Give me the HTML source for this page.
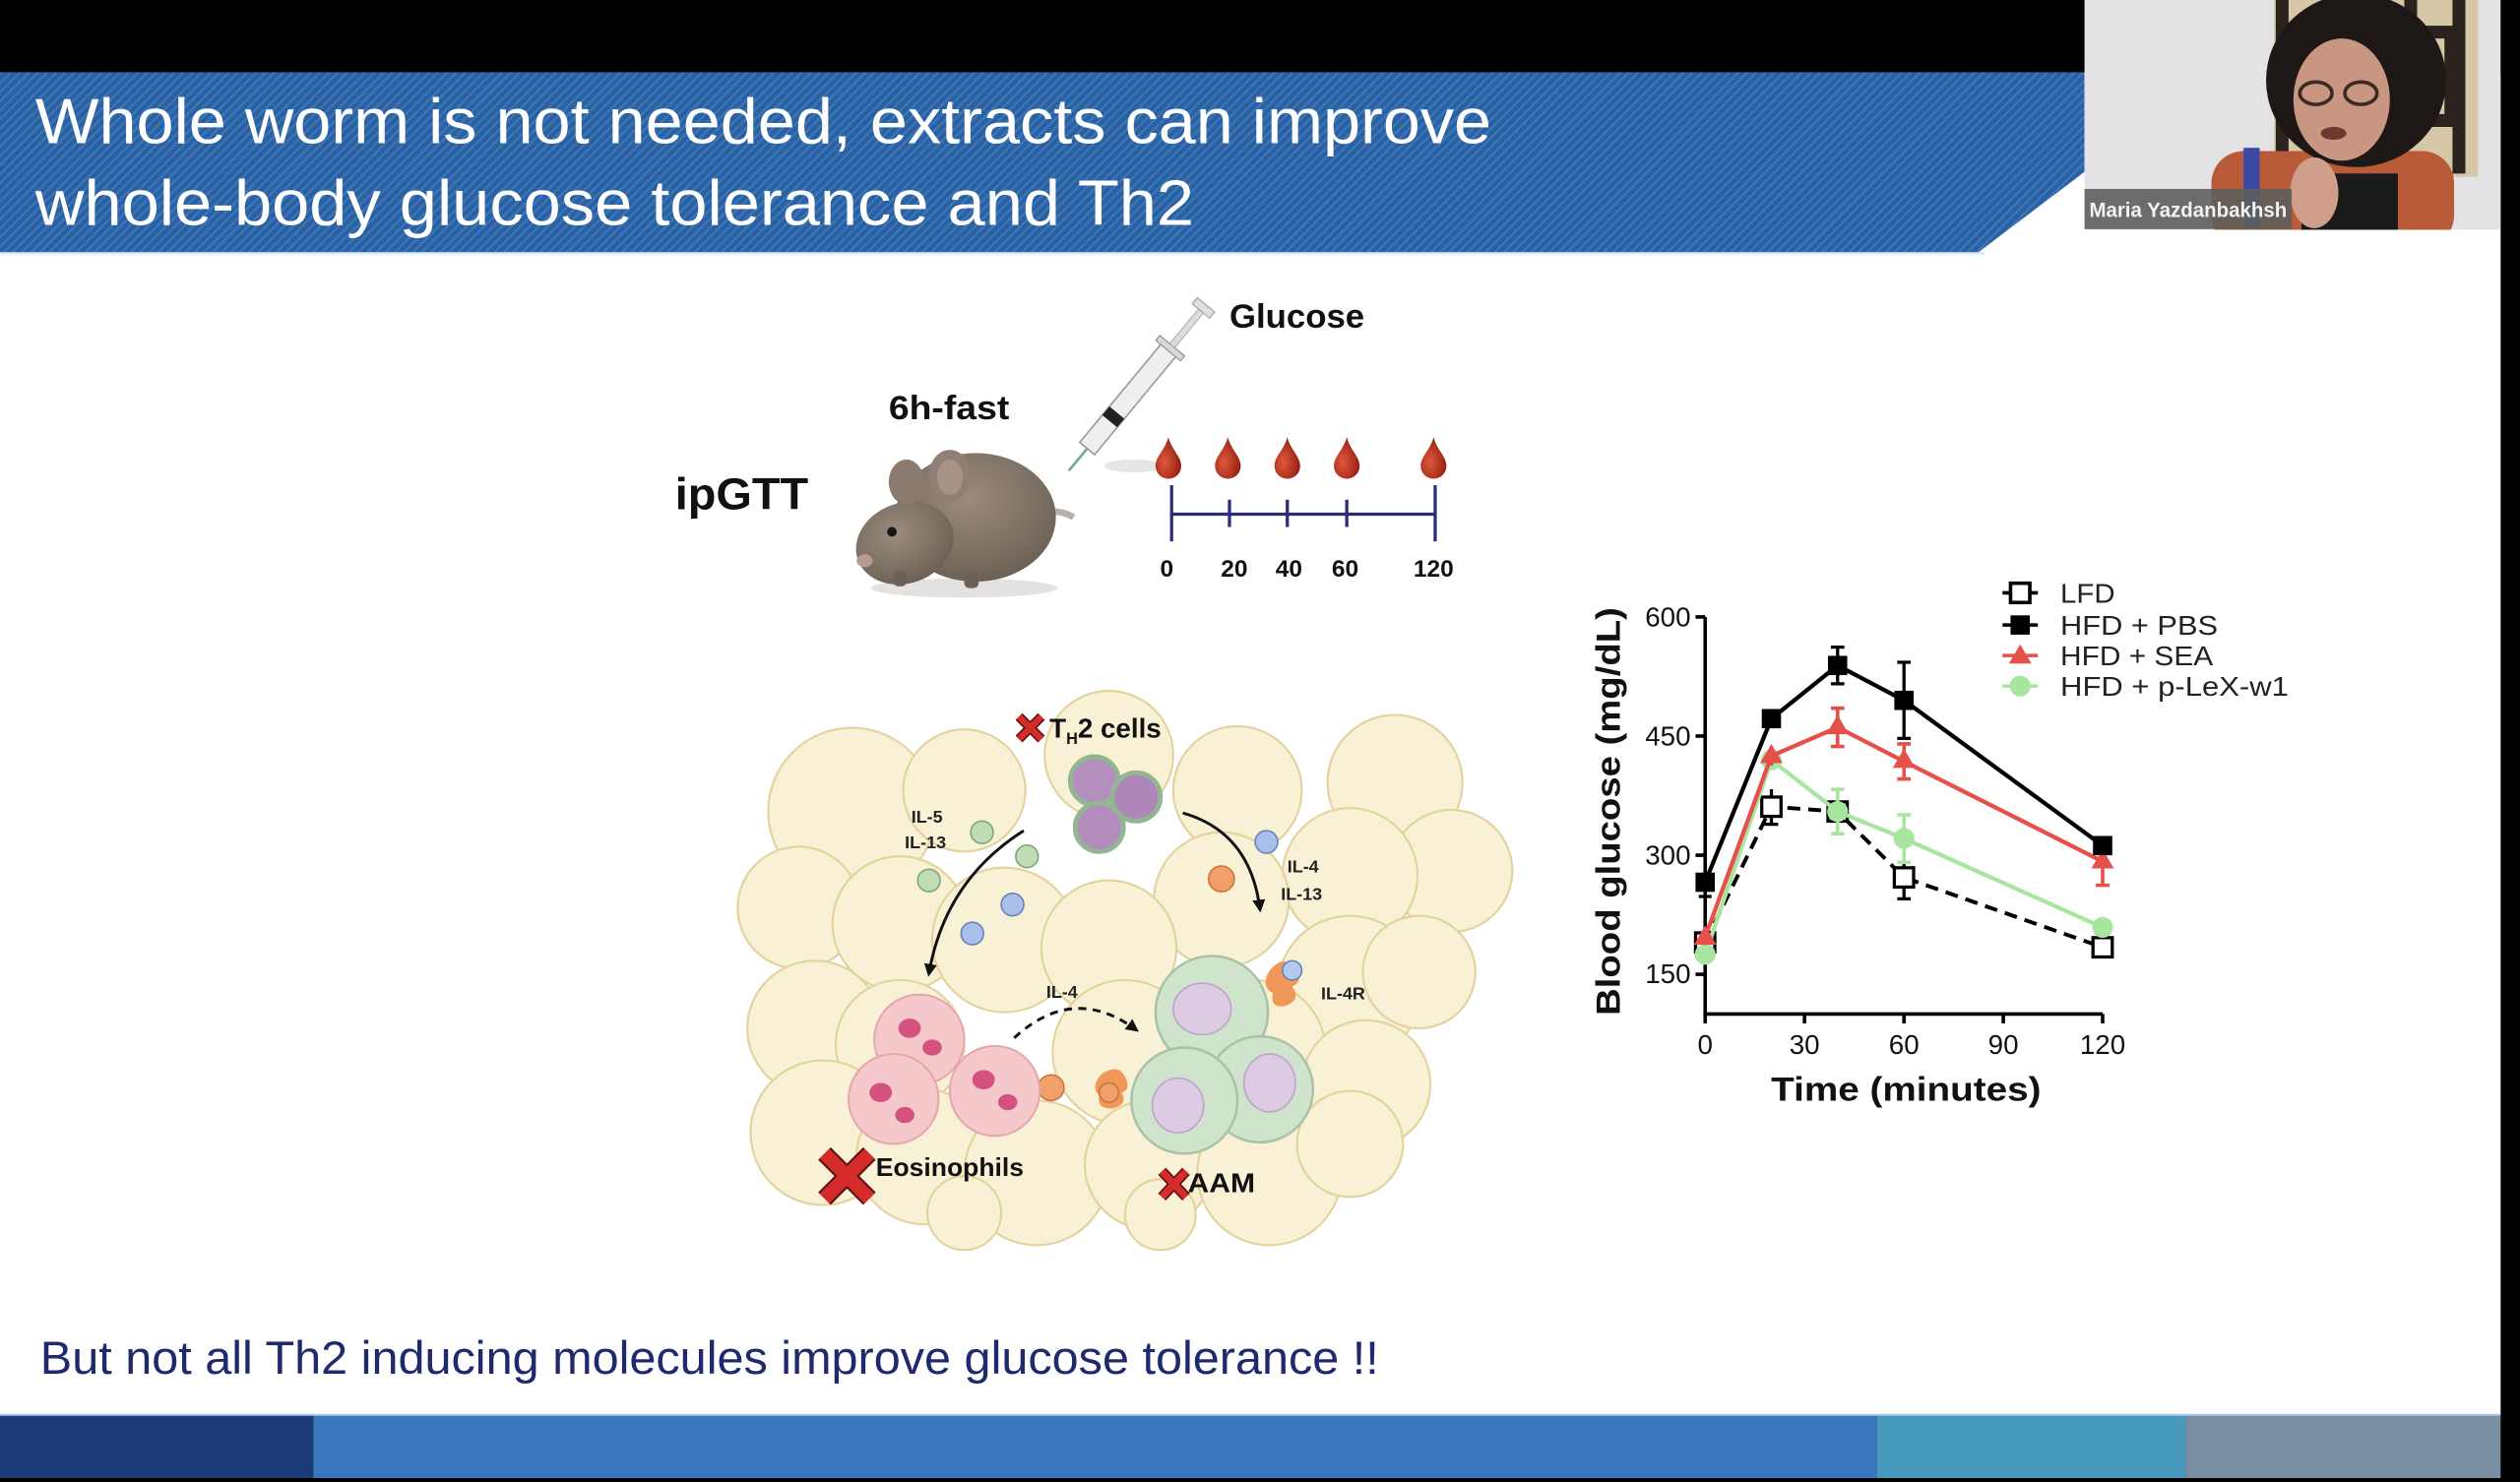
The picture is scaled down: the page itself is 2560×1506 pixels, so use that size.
<!DOCTYPE html>
<html><head><meta charset="utf-8"><style>
html,body{margin:0;padding:0;background:#000;width:2560px;height:1506px;overflow:hidden}
svg{display:block}
text{font-family:"Liberation Sans",Arial,sans-serif}
</style></head><body>
<svg width="2560" height="1506" viewBox="0 0 1568 922.4" preserveAspectRatio="none" xmlns="http://www.w3.org/2000/svg">
<defs>
<pattern id="stripes" width="4" height="4" patternUnits="userSpaceOnUse" patternTransform="rotate(45)">
<rect width="4" height="4" fill="#2a61a2"/>
<rect width="1.3" height="4" fill="#3d77b7"/>
</pattern>
<clipPath id="bannerClip"><polygon points="0,45 1297,45 1297,107 1231,157 0,157"/></clipPath>
<clipPath id="camClip"><rect x="1297" y="0" width="259" height="143"/></clipPath>
<marker id="ah" markerWidth="8" markerHeight="8" refX="6" refY="4" orient="auto" markerUnits="userSpaceOnUse">
<path d="M0,0 L8,4 L0,8 Z" fill="#111"/></marker>
<radialGradient id="dropG" cx="0.35" cy="0.6" r="0.7"><stop offset="0" stop-color="#e0583a"/><stop offset="1" stop-color="#8e1a10"/></radialGradient>
<radialGradient id="mouseG" cx="0.45" cy="0.35" r="0.7"><stop offset="0" stop-color="#9a8c7e"/><stop offset="1" stop-color="#6a5e54"/></radialGradient>
</defs>

<!-- base -->
<rect x="0" y="0" width="1568" height="922.4" fill="#000"/>
<rect x="0" y="45" width="1556" height="836" fill="#ffffff"/>

<!-- banner -->
<polygon points="0,45 1297,45 1297,107 1231,157 0,157" fill="url(#stripes)"/>
<g clip-path="url(#bannerClip)" stroke="#c8ecf8" stroke-width="1.3">
<line x1="1297" y1="112" x2="1231" y2="162"/>
<line x1="1297" y1="117" x2="1238" y2="162"/>
<line x1="1297" y1="122" x2="1245" y2="162"/>
<line x1="1297" y1="127" x2="1252" y2="162"/>
<line x1="1297" y1="132" x2="1259" y2="162"/>
<line x1="1297" y1="137" x2="1266" y2="162"/>
</g>
<rect x="0" y="157" width="1235" height="1.5" fill="#dbe7f3"/>
<text x="22" y="89" font-size="40" fill="#ffffff" textLength="906" lengthAdjust="spacingAndGlyphs">Whole worm is not needed, extracts can improve</text>
<text x="22" y="140" font-size="40" fill="#ffffff" textLength="721" lengthAdjust="spacingAndGlyphs">whole-body glucose tolerance  and Th2</text>

<!-- webcam -->
<g clip-path="url(#camClip)">
<rect x="1297" y="0" width="259" height="143" fill="#e3e3e5"/>
<rect x="1415" y="0" width="127" height="110" fill="#d6c7a6"/>
<path d="M1420,0 V105 M1530,0 V108 M1440,20 H1525 V75 H1470 M1500,0 V50 H1450" stroke="#2a231d" stroke-width="8" fill="none"/>
<rect x="1376" y="94" width="151" height="60" rx="20" fill="#b95a38"/>
<rect x="1396" y="92" width="10" height="50" fill="#3a4aa0"/>
<rect x="1432" y="108" width="60" height="40" fill="#1a1a1a"/>
<ellipse cx="1466" cy="50" rx="56" ry="54" fill="#1d1815"/>
<ellipse cx="1457" cy="62" rx="30" ry="38" fill="#c89683"/>
<ellipse cx="1441" cy="58" rx="10" ry="7" fill="none" stroke="#3a2a22" stroke-width="2.2"/>
<ellipse cx="1469" cy="58" rx="10" ry="7" fill="none" stroke="#3a2a22" stroke-width="2.2"/>
<ellipse cx="1452" cy="83" rx="8" ry="4" fill="#6e3a30"/>
<ellipse cx="1440" cy="120" rx="15" ry="22" fill="#cf9f8b"/>
<rect x="1297" y="117.6" width="129" height="25" fill="#5e5e5e" opacity="0.9"/>
<text x="1300" y="135" font-size="13" font-weight="bold" fill="#f2f2f2" textLength="123" lengthAdjust="spacingAndGlyphs">Maria Yazdanbakhsh</text>
</g>

<!-- bottom text -->
<text x="25" y="855" font-size="29" fill="#1f2a6e" textLength="833" lengthAdjust="spacingAndGlyphs">But not all Th2 inducing molecules improve glucose tolerance !!</text>

<!-- bottom bars -->
<rect x="0" y="881" width="195" height="39" fill="#1b3a78"/>
<rect x="195" y="881" width="973" height="39" fill="#3a78be"/>
<rect x="1168" y="881" width="192" height="39" fill="#479abd"/>
<rect x="1360" y="881" width="196" height="39" fill="#7a8ea2"/>
<rect x="0" y="880" width="1556" height="1.2" fill="#a9c8e6"/>

<!-- ===== top diagram ===== -->
<text x="420" y="317" font-size="28" font-weight="bold" fill="#111" textLength="83" lengthAdjust="spacingAndGlyphs">ipGTT</text>
<text x="553" y="261" font-size="21" font-weight="bold" fill="#111" textLength="75" lengthAdjust="spacingAndGlyphs">6h-fast</text>
<text x="765" y="204" font-size="21" font-weight="bold" fill="#111" textLength="84" lengthAdjust="spacingAndGlyphs">Glucose</text>

<!-- mouse -->
<ellipse cx="600" cy="366" rx="58" ry="6" fill="#e4e2e0"/>
<path d="M650,318 Q662,318 668,322" stroke="#b8b0aa" stroke-width="4" fill="none"/>
<ellipse cx="607" cy="322" rx="50" ry="40" fill="url(#mouseG)"/>
<ellipse cx="563" cy="338" rx="31" ry="25" fill="url(#mouseG)" transform="rotate(-20 563 338)"/>
<ellipse cx="564" cy="300" rx="11" ry="14" fill="#8a7a70"/>
<ellipse cx="591" cy="296" rx="13" ry="16" fill="#8f7f74"/>
<ellipse cx="591" cy="297" rx="8" ry="11" fill="#a89388"/>
<circle cx="555" cy="331" r="3" fill="#1a1412"/>
<ellipse cx="538" cy="349" rx="5" ry="4" fill="#b89a92"/>
<rect x="556" y="355" width="8" height="10" rx="3" fill="#6d6058"/>
<rect x="600" y="356" width="9" height="10" rx="3" fill="#6d6058"/>

<!-- syringe -->
<g transform="translate(665,293) rotate(-50.4)">
<line x1="0" y1="0" x2="18" y2="0" stroke="#7aa89a" stroke-width="1.6"/>
<rect x="18" y="-6" width="80" height="12" fill="#efefef" stroke="#9a9a9a" stroke-width="1"/>
<rect x="40" y="-6" width="7" height="12" fill="#222"/>
<rect x="97" y="-10" width="4" height="20" fill="#d8d8d8" stroke="#999" stroke-width="0.8"/>
<rect x="101" y="-2" width="28" height="4" fill="#dcdcdc" stroke="#aaa" stroke-width="0.6"/>
<rect x="129" y="-7" width="5" height="14" fill="#e0e0e0" stroke="#aaa" stroke-width="0.8"/>
</g>
<ellipse cx="705" cy="290" rx="18" ry="4" fill="#e6e6e6"/>

<!-- drops -->
<g fill="url(#dropG)">
<path d="M727,272 C729,280 735,284 735,290 A8,8 0 0,1 719,290 C719,284 725,280 727,272 Z"/>
<path d="M764,272 C766,280 772,284 772,290 A8,8 0 0,1 756,290 C756,284 762,280 764,272 Z"/>
<path d="M801,272 C803,280 809,284 809,290 A8,8 0 0,1 793,290 C793,284 799,280 801,272 Z"/>
<path d="M838,272 C840,280 846,284 846,290 A8,8 0 0,1 830,290 C830,284 836,280 838,272 Z"/>
<path d="M892,272 C894,280 900,284 900,290 A8,8 0 0,1 884,290 C884,284 890,280 892,272 Z"/>
</g>

<!-- timeline -->
<g stroke="#2b2d7a" stroke-width="2">
<line x1="729" y1="320" x2="893" y2="320"/>
<line x1="729" y1="302" x2="729" y2="337"/>
<line x1="893" y1="302" x2="893" y2="337"/>
<line x1="765" y1="311" x2="765" y2="328"/>
<line x1="801" y1="311" x2="801" y2="328"/>
<line x1="838" y1="311" x2="838" y2="328"/>
</g>
<g font-size="15" font-weight="bold" fill="#111" text-anchor="middle">
<text x="726" y="359">0</text>
<text x="768" y="359">20</text>
<text x="802" y="359">40</text>
<text x="837" y="359">60</text>
<text x="892" y="359">120</text>
</g>

<!-- ===== fat cells diagram ===== -->
<g fill="#f9f1d5" stroke="#e3d29c" stroke-width="1.3">
<circle cx="530" cy="505" r="52"/>
<circle cx="600" cy="492" r="38"/>
<circle cx="690" cy="470" r="40"/>
<circle cx="770" cy="492" r="40"/>
<circle cx="868" cy="487" r="42"/>
<circle cx="903" cy="542" r="38"/>
<circle cx="840" cy="545" r="42"/>
<circle cx="760" cy="560" r="42"/>
<circle cx="497" cy="565" r="38"/>
<circle cx="560" cy="575" r="42"/>
<circle cx="625" cy="585" r="45"/>
<circle cx="690" cy="590" r="42"/>
<circle cx="507" cy="640" r="42"/>
<circle cx="560" cy="650" r="40"/>
<circle cx="840" cy="615" r="45"/>
<circle cx="883" cy="605" r="35"/>
<circle cx="700" cy="655" r="45"/>
<circle cx="780" cy="655" r="45"/>
<circle cx="850" cy="675" r="40"/>
<circle cx="512" cy="705" r="45"/>
<circle cx="575" cy="720" r="42"/>
<circle cx="645" cy="730" r="45"/>
<circle cx="715" cy="725" r="40"/>
<circle cx="790" cy="730" r="45"/>
<circle cx="840" cy="712" r="33"/>
<circle cx="600" cy="755" r="23"/>
<circle cx="722" cy="756" r="22"/>
</g>

<!-- Th2 cells -->
<g stroke="#93b592" stroke-width="3">
<circle cx="681" cy="486" r="15" fill="#b48fbd"/>
<circle cx="707" cy="496" r="15" fill="#ae86b8"/>
<circle cx="684" cy="515" r="15" fill="#b38cbc"/>
</g>
<!-- cytokines -->
<g stroke="#7fa67a" stroke-width="1" fill="#bfdcb2">
<circle cx="611" cy="518" r="7"/><circle cx="639" cy="533" r="7"/><circle cx="578" cy="548" r="7"/>
</g>
<g stroke="#6a84b8" stroke-width="1" fill="#a9c0ea">
<circle cx="630" cy="563" r="7"/><circle cx="605" cy="581" r="7"/><circle cx="788" cy="524" r="7"/>
</g>
<g stroke="#c8743e" stroke-width="1" fill="#f2a06a">
<circle cx="760" cy="547" r="8"/><circle cx="654" cy="677" r="8"/>
</g>

<!-- arrows -->
<path d="M637,517 Q588,548 578,606" stroke="#111" stroke-width="1.8" fill="none" marker-end="url(#ah)"/>
<path d="M736,506 Q778,518 784,566" stroke="#111" stroke-width="1.8" fill="none" marker-end="url(#ah)"/>
<path d="M631,646 Q668,612 707,641" stroke="#111" stroke-width="1.8" fill="none" stroke-dasharray="5,4" marker-end="url(#ah)"/>

<!-- eosinophils -->
<g stroke="#e6a4ab" stroke-width="1.2" fill="#f5c8cc">
<circle cx="572" cy="647" r="28"/>
<circle cx="556" cy="684" r="28"/>
<circle cx="619" cy="679" r="28"/>
</g>
<g fill="#d4527f">
<ellipse cx="566" cy="640" rx="7" ry="6"/><ellipse cx="580" cy="652" rx="6" ry="5"/>
<ellipse cx="548" cy="680" rx="7" ry="6"/><ellipse cx="563" cy="694" rx="6" ry="5"/>
<ellipse cx="612" cy="672" rx="7" ry="6"/><ellipse cx="627" cy="686" rx="6" ry="5"/>
</g>

<!-- macrophages -->
<g stroke="#a8c2a3" stroke-width="1.5" fill="#cfe3cd">
<circle cx="754" cy="630" r="35"/>
<circle cx="784" cy="678" r="33"/>
<circle cx="737" cy="685" r="33"/>
</g>
<g fill="#dccbe3" stroke="#bca5c8" stroke-width="1">
<ellipse cx="748" cy="628" rx="18" ry="16"/>
<ellipse cx="790" cy="674" rx="16" ry="18"/>
<ellipse cx="733" cy="688" rx="16" ry="17"/>
</g>
<!-- receptors -->
<g fill="#f0975a">
<path d="M790,604 q8,-10 16,-2 q6,8 -2,12 q6,8 -4,12 q-10,2 -8,-8 q-8,-4 -2,-14 Z"/>
<path d="M686,668 q10,-6 14,2 q4,8 -2,10 q4,8 -6,10 q-10,0 -8,-8 q-6,-6 2,-14 Z"/>
</g>
<circle cx="804" cy="604" r="6" fill="#b6c8ee" stroke="#6a84b8" stroke-width="1"/>
<circle cx="690" cy="680" r="6" fill="#f2a06a" stroke="#c8743e" stroke-width="1"/>

<!-- diagram labels -->
<g font-weight="bold" fill="#222" font-size="11">
<text x="567" y="512">IL-5</text>
<text x="563" y="528">IL-13</text>
<text x="801" y="543">IL-4</text>
<text x="797" y="560">IL-13</text>
<text x="651" y="621">IL-4</text>
<text x="822" y="622">IL-4R</text>
</g>
<text x="653" y="459" font-size="17" font-weight="bold" fill="#111">T<tspan font-size="10" dy="4">H</tspan><tspan dy="-4">2 cells</tspan></text>
<text x="545" y="732" font-size="16" font-weight="bold" fill="#111" textLength="92" lengthAdjust="spacingAndGlyphs">Eosinophils</text>
<text x="739" y="742" font-size="17" font-weight="bold" fill="#111" textLength="42" lengthAdjust="spacingAndGlyphs">AAM</text>

<!-- red X marks -->
<g stroke-linecap="butt">
<path d="M634,446 L648,460 M648,446 L634,460" stroke="#5a1010" stroke-width="6"/>
<path d="M634,446 L648,460 M648,446 L634,460" stroke="#d62b2b" stroke-width="4"/>
<path d="M513,718 L541,746 M541,718 L513,746" stroke="#5a1010" stroke-width="11"/>
<path d="M513,718 L541,746 M541,718 L513,746" stroke="#d62b2b" stroke-width="8.5"/>
<path d="M723,729 L738,745 M738,729 L723,745" stroke="#5a1010" stroke-width="6.5"/>
<path d="M723,729 L738,745 M738,729 L723,745" stroke="#d62b2b" stroke-width="4.5"/>
</g>

<!-- ===== chart ===== -->
<g stroke="#000" stroke-width="2.2" fill="none">
<path d="M1061,384 V631.1 H1308.3"/>
<path d="M1055,384 H1061 M1055,458.1 H1061 M1055,532.3 H1061 M1055,606.4 H1061"/>
<path d="M1061,631 V637 M1122.8,631 V637 M1184.7,631 V637 M1246.5,631 V637 M1308.3,631 V637"/>
</g>
<g font-size="17" fill="#111" text-anchor="end">
<text x="1052" y="390">600</text>
<text x="1052" y="464">450</text>
<text x="1052" y="538">300</text>
<text x="1052" y="612">150</text>
</g>
<g font-size="17" fill="#111" text-anchor="middle">
<text x="1061" y="656">0</text>
<text x="1122.8" y="656">30</text>
<text x="1184.7" y="656">60</text>
<text x="1246.5" y="656">90</text>
<text x="1308.3" y="656">120</text>
</g>
<text x="1186" y="685" font-size="21" font-weight="bold" fill="#111" text-anchor="middle" textLength="168" lengthAdjust="spacingAndGlyphs">Time (minutes)</text>
<text transform="translate(1008,505) rotate(-90)" font-size="21" font-weight="bold" fill="#111" text-anchor="middle" textLength="254" lengthAdjust="spacingAndGlyphs">Blood glucose (mg/dL)</text>

<!-- LFD -->
<polyline points="1061,586.6 1102.2,502.1 1143.4,505.1 1184.7,546.1 1308.3,589.6" fill="none" stroke="#000" stroke-width="2.4" stroke-dasharray="8,5"/>
<path d="M1061,580.6V592.6 M1102.2,491.2V513 M1098,513h8.4 M1143.4,497V513 M1184.7,532.8V559.4 M1180.5,559.4h8.4 M1308.3,584.6V594.6" stroke="#000" stroke-width="2" fill="none"/>
<g fill="#fff" stroke="#000" stroke-width="2">
<rect x="1055" y="580.6" width="12" height="12"/>
<rect x="1096.2" y="496.1" width="12" height="12"/>
<rect x="1137.4" y="499.1" width="12" height="12"/>
<rect x="1178.7" y="540.1" width="12" height="12"/>
<rect x="1302.3" y="583.6" width="12" height="12"/>
</g>

<!-- green -->
<polyline points="1061,594 1102.2,473 1143.4,505.1 1184.7,521.9 1308.3,577.2" fill="none" stroke="#a8e6a0" stroke-width="2.6"/>
<path d="M1061,589V599 M1143.4,491.3V518.9 M1139.2,491.3h8.4 M1139.2,518.9h8.4 M1184.7,507.1V536.7 M1180.5,507.1h8.4 M1180.5,536.7h8.4 M1308.3,573.2V581.2" stroke="#a8e6a0" stroke-width="2.2" fill="none"/>
<g fill="#a8e6a0">
<circle cx="1061" cy="594" r="6.5"/><circle cx="1102.2" cy="473" r="6.5"/><circle cx="1143.4" cy="505.1" r="6.5"/><circle cx="1184.7" cy="521.9" r="6.5"/><circle cx="1308.3" cy="577.2" r="6.5"/>
</g>

<!-- red SEA -->
<polyline points="1061,583.2 1102.2,470.5 1143.4,452.7 1184.7,473.9 1308.3,536.2" fill="none" stroke="#e5504a" stroke-width="2.6"/>
<path d="M1061,578.2V588.2 M1102.2,464.5V476.5 M1143.4,440.8V464.6 M1139.2,440.8h8.4 M1139.2,464.6h8.4 M1184.7,463V484.8 M1180.5,484.8h8.4 M1180.5,463h8.4 M1308.3,521.4V551 M1304.1,551h8.4" stroke="#e5504a" stroke-width="2.2" fill="none"/>
<g fill="#e5504a">
<polygon points="1061,576 1054,588 1068,588"/>
<polygon points="1102.2,463 1095.2,475 1109.2,475"/>
<polygon points="1143.4,445 1136.4,457 1150.4,457"/>
<polygon points="1184.7,466 1177.7,478 1191.7,478"/>
<polygon points="1308.3,528.5 1301.3,540.5 1315.3,540.5"/>
</g>

<!-- black PBS -->
<polyline points="1061,549.1 1102.2,447.3 1143.4,414.2 1184.7,435.9 1308.3,526.3" fill="none" stroke="#000" stroke-width="2.6"/>
<path d="M1061,540.2V558 M1057,558h8 M1102.2,442.4V452.2 M1143.4,402.8V425.6 M1139.2,402.8h8.4 M1139.2,425.6h8.4 M1184.7,412.2V459.6 M1180.5,412.2h8.4 M1180.5,459.6h8.4 M1308.3,521.4V531.2" stroke="#000" stroke-width="2" fill="none"/>
<g fill="#000">
<rect x="1055" y="543.1" width="12" height="12"/>
<rect x="1096.2" y="441.3" width="12" height="12"/>
<rect x="1137.4" y="408.2" width="12" height="12"/>
<rect x="1178.7" y="429.9" width="12" height="12"/>
<rect x="1302.3" y="520.3" width="12" height="12"/>
</g>

<!-- legend -->
<g stroke-width="2.2" fill="none">
<line x1="1246" y1="369" x2="1268" y2="369" stroke="#000"/>
<line x1="1246" y1="389" x2="1268" y2="389" stroke="#000"/>
<line x1="1246" y1="408" x2="1268" y2="408" stroke="#e5504a"/>
<line x1="1246" y1="427" x2="1268" y2="427" stroke="#a8e6a0"/>
</g>
<rect x="1251" y="363" width="12" height="12" fill="#fff" stroke="#000" stroke-width="2.2"/>
<rect x="1251" y="383" width="12" height="12" fill="#000"/>
<polygon points="1257,401 1250,413 1264,413" fill="#e5504a"/>
<circle cx="1257" cy="427" r="6.5" fill="#a8e6a0"/>
<g font-size="17" fill="#222">
<text x="1282" y="375" textLength="34" lengthAdjust="spacingAndGlyphs">LFD</text>
<text x="1282" y="395" textLength="98" lengthAdjust="spacingAndGlyphs">HFD + PBS</text>
<text x="1282" y="414" textLength="95" lengthAdjust="spacingAndGlyphs">HFD + SEA</text>
<text x="1282" y="433" textLength="142" lengthAdjust="spacingAndGlyphs">HFD + p-LeX-w1</text>
</g>

<!-- right black edge -->
<rect x="1556" y="0" width="12" height="922.4" fill="#000"/>
<rect x="0" y="920" width="1568" height="2.4" fill="#000"/>
</svg>
</body></html>
